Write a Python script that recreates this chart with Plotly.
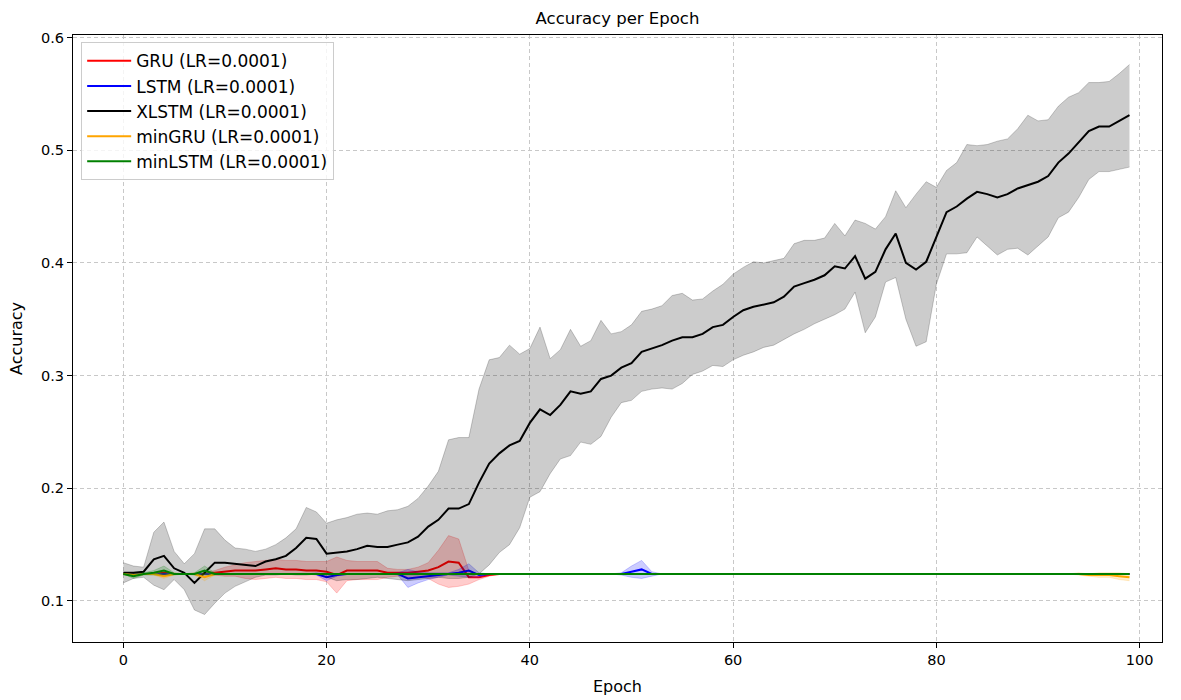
import plotly.graph_objects as go

epochs = list(range(100))

# XLSTM mean and band edges
xlstm_mean = [
    0.125, 0.125, 0.126, 0.137, 0.140, 0.129, 0.125, 0.116, 0.125, 0.134,
    0.134, 0.133, 0.132, 0.131, 0.135, 0.137, 0.140, 0.147, 0.156, 0.155,
    0.142, 0.143, 0.144, 0.146, 0.149, 0.148, 0.148, 0.150, 0.152, 0.157,
    0.166, 0.172, 0.182, 0.182, 0.186, 0.205, 0.222, 0.231, 0.238, 0.242,
    0.258, 0.270, 0.265, 0.274, 0.286, 0.284, 0.286, 0.297, 0.300, 0.307,
    0.311, 0.321, 0.324, 0.327, 0.331, 0.334, 0.334, 0.337, 0.343, 0.345,
    0.352, 0.358, 0.361, 0.363, 0.365, 0.370, 0.379, 0.382, 0.385, 0.389,
    0.397, 0.395, 0.406, 0.386, 0.392, 0.412, 0.426, 0.400, 0.394, 0.401,
    0.423, 0.445, 0.450, 0.457, 0.463, 0.461, 0.458, 0.461, 0.466, 0.469,
    0.472, 0.477, 0.489, 0.497, 0.507, 0.517, 0.521, 0.521, 0.526, 0.531,
]
xlstm_upper = [
    0.134, 0.131, 0.130, 0.161, 0.170, 0.144, 0.133, 0.142, 0.164, 0.164,
    0.154, 0.147, 0.146, 0.144, 0.146, 0.150, 0.156, 0.164, 0.183, 0.179,
    0.169, 0.172, 0.174, 0.177, 0.178, 0.177, 0.180, 0.181, 0.184, 0.191,
    0.202, 0.215, 0.243, 0.245, 0.245, 0.288, 0.314, 0.316, 0.327, 0.319,
    0.324, 0.343, 0.315, 0.323, 0.341, 0.326, 0.331, 0.349, 0.337, 0.339,
    0.345, 0.357, 0.359, 0.362, 0.371, 0.373, 0.367, 0.368, 0.375, 0.381,
    0.390, 0.396, 0.401, 0.400, 0.402, 0.404, 0.417, 0.420, 0.420, 0.422,
    0.435, 0.424, 0.438, 0.435, 0.430, 0.441, 0.464, 0.449, 0.461, 0.472,
    0.467, 0.482, 0.489, 0.505, 0.504, 0.505, 0.508, 0.510, 0.519, 0.531,
    0.526, 0.527, 0.539, 0.547, 0.551, 0.560, 0.560, 0.561, 0.568, 0.576,
]
xlstm_lower = [
    0.116, 0.120, 0.121, 0.114, 0.110, 0.119, 0.110, 0.092, 0.088, 0.098,
    0.107, 0.113, 0.117, 0.121, 0.123, 0.123, 0.124, 0.123, 0.123, 0.124,
    0.121, 0.118, 0.119, 0.119, 0.120, 0.121, 0.120, 0.119, 0.118, 0.119,
    0.120, 0.121, 0.120, 0.120, 0.121, 0.124, 0.132, 0.143, 0.150, 0.165,
    0.192, 0.197, 0.213, 0.226, 0.229, 0.241, 0.239, 0.246, 0.263, 0.276,
    0.278, 0.286, 0.288, 0.289, 0.288, 0.293, 0.301, 0.304, 0.309, 0.308,
    0.314, 0.318, 0.321, 0.325, 0.327, 0.332, 0.337, 0.341, 0.346, 0.350,
    0.354, 0.359, 0.374, 0.338, 0.352, 0.383, 0.387, 0.350, 0.326, 0.330,
    0.381, 0.408, 0.408, 0.409, 0.423, 0.415, 0.407, 0.412, 0.413, 0.407,
    0.415, 0.423, 0.440, 0.445, 0.458, 0.474, 0.481, 0.481, 0.483, 0.485,
]

gru_mean = [
    0.124, 0.124, 0.124, 0.124, 0.125, 0.124, 0.124, 0.124, 0.124, 0.125,
    0.126, 0.127, 0.127, 0.127, 0.128, 0.129, 0.128, 0.128, 0.127, 0.127,
    0.126, 0.123, 0.127, 0.127, 0.127, 0.127, 0.125, 0.125, 0.125, 0.126,
    0.127, 0.130, 0.135, 0.134, 0.121, 0.121, 0.123, 0.124, 0.124, 0.124,
    0.124, 0.124, 0.124, 0.124, 0.124, 0.124, 0.124, 0.124, 0.124, 0.124,
    0.124, 0.124, 0.124, 0.124, 0.124, 0.124, 0.124, 0.124, 0.124, 0.124,
    0.124, 0.124, 0.124, 0.124, 0.124, 0.124, 0.124, 0.124, 0.124, 0.124,
    0.124, 0.124, 0.124, 0.124, 0.124, 0.124, 0.124, 0.124, 0.124, 0.124,
    0.124, 0.124, 0.124, 0.124, 0.124, 0.124, 0.124, 0.124, 0.124, 0.124,
    0.124, 0.124, 0.124, 0.124, 0.124, 0.124, 0.124, 0.124, 0.124, 0.124,
]
gru_std = [
    0.000, 0.000, 0.000, 0.000, 0.001, 0.000, 0.000, 0.000, 0.001, 0.002,
    0.004, 0.005, 0.007, 0.008, 0.008, 0.008, 0.008, 0.008, 0.008, 0.008,
    0.009, 0.016, 0.009, 0.008, 0.008, 0.008, 0.004, 0.003, 0.003, 0.004,
    0.007, 0.015, 0.023, 0.021, 0.006, 0.002, 0.001, 0.000, 0.000, 0.000,
    0.000, 0.000, 0.000, 0.000, 0.000, 0.000, 0.000, 0.000, 0.000, 0.000,
    0.000, 0.000, 0.000, 0.000, 0.000, 0.000, 0.000, 0.000, 0.000, 0.000,
    0.000, 0.000, 0.000, 0.000, 0.000, 0.000, 0.000, 0.000, 0.000, 0.000,
    0.000, 0.000, 0.000, 0.000, 0.000, 0.000, 0.000, 0.000, 0.000, 0.000,
    0.000, 0.000, 0.000, 0.000, 0.000, 0.000, 0.000, 0.000, 0.000, 0.000,
    0.000, 0.000, 0.000, 0.000, 0.000, 0.000, 0.000, 0.000, 0.000, 0.000,
]

lstm_mean = [
    0.124, 0.124, 0.124, 0.124, 0.124, 0.124, 0.124, 0.124, 0.124, 0.124,
    0.124, 0.124, 0.124, 0.124, 0.124, 0.124, 0.124, 0.124, 0.124, 0.124,
    0.121, 0.123, 0.124, 0.124, 0.124, 0.124, 0.124, 0.124, 0.120, 0.121,
    0.122, 0.123, 0.124, 0.125, 0.127, 0.123, 0.124, 0.124, 0.124, 0.124,
    0.124, 0.124, 0.124, 0.124, 0.124, 0.124, 0.124, 0.124, 0.124, 0.124,
    0.126, 0.128, 0.124, 0.124, 0.124, 0.124, 0.124, 0.124, 0.124, 0.124,
    0.124, 0.124, 0.124, 0.124, 0.124, 0.124, 0.124, 0.124, 0.124, 0.124,
    0.124, 0.124, 0.124, 0.124, 0.124, 0.124, 0.124, 0.124, 0.124, 0.124,
    0.124, 0.124, 0.124, 0.124, 0.124, 0.124, 0.124, 0.124, 0.124, 0.124,
    0.124, 0.124, 0.124, 0.124, 0.124, 0.124, 0.124, 0.124, 0.124, 0.124,
]
lstm_std = [
    0.000, 0.000, 0.000, 0.000, 0.000, 0.000, 0.000, 0.000, 0.000, 0.000,
    0.000, 0.000, 0.000, 0.000, 0.000, 0.000, 0.000, 0.000, 0.000, 0.001,
    0.003, 0.001, 0.000, 0.000, 0.000, 0.000, 0.000, 0.001, 0.008, 0.005,
    0.003, 0.002, 0.001, 0.003, 0.006, 0.002, 0.000, 0.000, 0.000, 0.000,
    0.000, 0.000, 0.000, 0.000, 0.000, 0.000, 0.000, 0.000, 0.000, 0.001,
    0.005, 0.008, 0.002, 0.000, 0.000, 0.000, 0.000, 0.000, 0.000, 0.000,
    0.000, 0.000, 0.000, 0.000, 0.000, 0.000, 0.000, 0.000, 0.000, 0.000,
    0.000, 0.000, 0.000, 0.000, 0.000, 0.000, 0.000, 0.000, 0.000, 0.000,
    0.000, 0.000, 0.000, 0.000, 0.000, 0.000, 0.000, 0.000, 0.000, 0.000,
    0.000, 0.000, 0.000, 0.000, 0.000, 0.000, 0.000, 0.000, 0.000, 0.000,
]

mingru_mean = [
    0.124, 0.123, 0.124, 0.124, 0.122, 0.124, 0.124, 0.124, 0.121, 0.124,
    0.124, 0.124, 0.124, 0.124, 0.124, 0.124, 0.124, 0.124, 0.124, 0.124,
    0.124, 0.124, 0.124, 0.124, 0.124, 0.124, 0.124, 0.124, 0.124, 0.124,
    0.124, 0.124, 0.124, 0.124, 0.124, 0.124, 0.124, 0.124, 0.124, 0.124,
    0.124, 0.124, 0.124, 0.124, 0.124, 0.124, 0.124, 0.124, 0.124, 0.124,
    0.124, 0.124, 0.124, 0.124, 0.124, 0.124, 0.124, 0.124, 0.124, 0.124,
    0.124, 0.124, 0.124, 0.124, 0.124, 0.124, 0.124, 0.124, 0.124, 0.124,
    0.124, 0.124, 0.124, 0.124, 0.124, 0.124, 0.124, 0.124, 0.124, 0.124,
    0.124, 0.124, 0.124, 0.124, 0.124, 0.124, 0.124, 0.124, 0.124, 0.124,
    0.124, 0.124, 0.124, 0.124, 0.124, 0.123, 0.123, 0.123, 0.122, 0.121,
]
mingru_std = [
    0.000, 0.001, 0.000, 0.001, 0.002, 0.001, 0.000, 0.001, 0.003, 0.001,
    0.000, 0.000, 0.000, 0.000, 0.000, 0.000, 0.000, 0.000, 0.000, 0.000,
    0.000, 0.000, 0.000, 0.000, 0.000, 0.000, 0.000, 0.000, 0.000, 0.000,
    0.000, 0.000, 0.000, 0.000, 0.000, 0.000, 0.000, 0.000, 0.000, 0.000,
    0.000, 0.000, 0.000, 0.000, 0.000, 0.000, 0.000, 0.000, 0.000, 0.000,
    0.000, 0.000, 0.000, 0.000, 0.000, 0.000, 0.000, 0.000, 0.000, 0.000,
    0.000, 0.000, 0.000, 0.000, 0.000, 0.000, 0.000, 0.000, 0.000, 0.000,
    0.000, 0.000, 0.000, 0.000, 0.000, 0.000, 0.000, 0.000, 0.000, 0.000,
    0.000, 0.000, 0.000, 0.000, 0.000, 0.000, 0.000, 0.000, 0.000, 0.000,
    0.000, 0.000, 0.000, 0.000, 0.001, 0.001, 0.002, 0.002, 0.003, 0.003,
]

minlstm_mean = [
    0.124, 0.122, 0.124, 0.125, 0.127, 0.124, 0.124, 0.124, 0.127, 0.124,
    0.124, 0.124, 0.124, 0.124, 0.124, 0.124, 0.124, 0.124, 0.124, 0.124,
    0.124, 0.124, 0.124, 0.124, 0.124, 0.124, 0.124, 0.124, 0.124, 0.124,
    0.124, 0.124, 0.124, 0.124, 0.124, 0.124, 0.124, 0.124, 0.124, 0.124,
    0.124, 0.124, 0.124, 0.124, 0.124, 0.124, 0.124, 0.124, 0.124, 0.124,
    0.124, 0.124, 0.124, 0.124, 0.124, 0.124, 0.124, 0.124, 0.124, 0.124,
    0.124, 0.124, 0.124, 0.124, 0.124, 0.124, 0.124, 0.124, 0.124, 0.124,
    0.124, 0.124, 0.124, 0.124, 0.124, 0.124, 0.124, 0.124, 0.124, 0.124,
    0.124, 0.124, 0.124, 0.124, 0.124, 0.124, 0.124, 0.124, 0.124, 0.124,
    0.124, 0.124, 0.124, 0.124, 0.124, 0.124, 0.124, 0.124, 0.124, 0.124,
]
minlstm_std = [
    0.000, 0.002, 0.001, 0.002, 0.004, 0.001, 0.000, 0.001, 0.004, 0.001,
    0.000, 0.000, 0.000, 0.000, 0.000, 0.000, 0.000, 0.000, 0.000, 0.000,
    0.000, 0.000, 0.000, 0.000, 0.000, 0.000, 0.000, 0.000, 0.000, 0.000,
    0.000, 0.000, 0.000, 0.000, 0.000, 0.000, 0.000, 0.000, 0.000, 0.000,
    0.000, 0.000, 0.000, 0.000, 0.000, 0.000, 0.000, 0.000, 0.000, 0.000,
    0.000, 0.000, 0.000, 0.000, 0.000, 0.000, 0.000, 0.000, 0.000, 0.000,
    0.000, 0.000, 0.000, 0.000, 0.000, 0.000, 0.000, 0.000, 0.000, 0.000,
    0.000, 0.000, 0.000, 0.000, 0.000, 0.000, 0.000, 0.000, 0.000, 0.000,
    0.000, 0.000, 0.000, 0.000, 0.000, 0.000, 0.000, 0.000, 0.000, 0.000,
    0.000, 0.000, 0.000, 0.000, 0.000, 0.000, 0.000, 0.000, 0.000, 0.000,
]

x_ticks = [0, 20, 40, 60, 80, 100]
y_ticks = [0.1, 0.2, 0.3, 0.4, 0.5, 0.6]


def band(mean, std):
    return ([m + s for m, s in zip(mean, std)], [m - s for m, s in zip(mean, std)])


series = [
    ("GRU (LR=0.0001)", gru_mean, *band(gru_mean, gru_std), (255, 0, 0)),
    ("LSTM (LR=0.0001)", lstm_mean, *band(lstm_mean, lstm_std), (0, 0, 255)),
    ("XLSTM (LR=0.0001)", xlstm_mean, xlstm_upper, xlstm_lower, (0, 0, 0)),
    ("minGRU (LR=0.0001)", mingru_mean, *band(mingru_mean, mingru_std), (255, 165, 0)),
    ("minLSTM (LR=0.0001)", minlstm_mean, *band(minlstm_mean, minlstm_std), (0, 128, 0)),
]

fig = go.Figure()
for name, mean, upper, lower, (r, g, b) in series:
    fill = f"rgba({r},{g},{b},0.2)"
    fig.add_trace(go.Scatter(x=epochs, y=lower, mode="lines",
                             line=dict(color=fill, width=1),
                             showlegend=False, hoverinfo="skip"))
    fig.add_trace(go.Scatter(x=epochs, y=upper, mode="lines",
                             line=dict(color=fill, width=1),
                             fill="tonexty", fillcolor=fill,
                             showlegend=False, hoverinfo="skip"))
    fig.add_trace(go.Scatter(x=epochs, y=mean, mode="lines", name=name,
                             line=dict(color=f"rgb({r},{g},{b})", width=2)))

axis_common = dict(
    showline=True, linecolor="black", linewidth=1, mirror=True,
    ticks="outside", ticklen=5, tickcolor="black", tickwidth=1,
    showgrid=True, gridcolor="#c8c8c8", griddash="4px,3px", gridwidth=1,
    zeroline=False, tickfont=dict(size=14.5, color="black"), automargin=False,
)

fig.update_layout(
    width=1181, height=700,
    margin=dict(l=73, r=19, t=35, b=58),
    paper_bgcolor="white", plot_bgcolor="white",
    font=dict(family="DejaVu Sans", color="black"),
    title=dict(text="Accuracy per Epoch", x=0.5, xref="paper", xanchor="center",
               y=1 - 18 / 700, yref="container", yanchor="middle",
               font=dict(size=16.5, color="black")),
    xaxis=dict(range=[-4.95, 102.2], tickvals=x_ticks,
               title=dict(text="Epoch", font=dict(size=16), standoff=13),
               **axis_common),
    yaxis=dict(range=[0.0636, 0.6022], tickvals=y_ticks, tickformat=".1f",
               title=dict(text="Accuracy", font=dict(size=16), standoff=14),
               **axis_common),
    legend=dict(x=0.0075, y=0.988, xanchor="left", yanchor="top",
                traceorder="normal", itemwidth=44,
                bgcolor="rgba(255,255,255,0.8)", bordercolor="#cccccc", borderwidth=1,
                font=dict(size=17, color="black"), tracegroupgap=0),
    showlegend=True,
)

fig.write_html("out.html")
